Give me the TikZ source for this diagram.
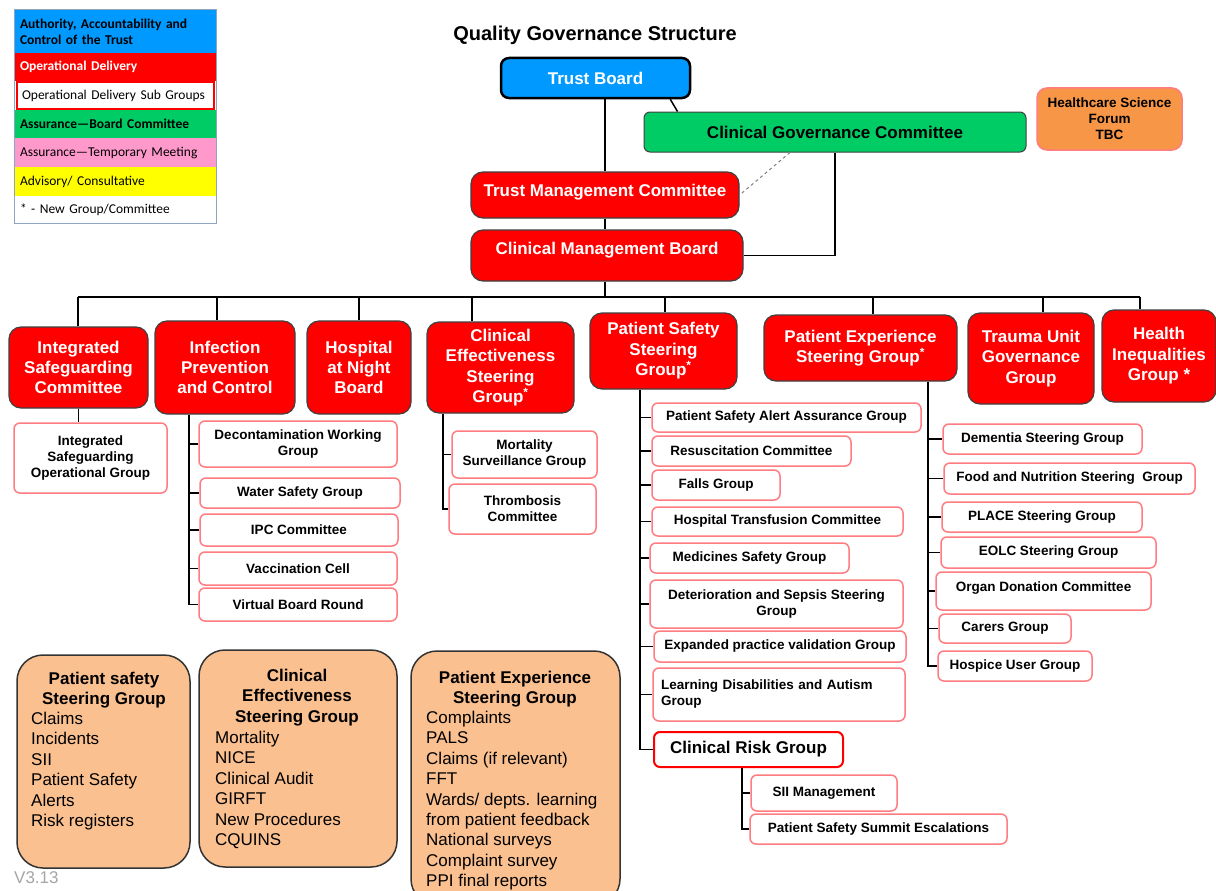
\documentclass[tikz,border=0pt]{standalone}
\usepackage{fontspec}
\setmainfont{Liberation Sans}
\newfontfamily\legfont{Carlito}
\usetikzlibrary{calc}

\definecolor{tbblue}{HTML}{0099FF}
\definecolor{cgcgreen}{HTML}{00CC66}
\definecolor{hsforange}{HTML}{F79646}
\definecolor{opred}{HTML}{FF0000}
\definecolor{subred}{HTML}{FF7C80}
\definecolor{peach}{HTML}{FAC090}
\definecolor{legpink}{HTML}{FF99CC}
\definecolor{legyellow}{HTML}{FFFF00}
\definecolor{hdborder}{HTML}{404040}
\definecolor{legframe}{HTML}{8EA4C0}

\tikzset{
  wh/.style 2 args={minimum width=#1pt, minimum height=#2pt},
  hdbox/.style={rectangle, inner sep=0pt, align=center, fill=opred, draw=hdborder,
    line width=1.2pt, rounded corners=12pt, text=white,
    font=\bfseries\fontsize{17}{20.4}\selectfont},
  subbox/.style={rectangle, inner sep=0pt, align=center, fill=white, draw=subred,
    line width=1.5pt, rounded corners=6pt, font=\bfseries\fontsize{13.5}{16}\selectfont},
  sumbox/.style={rectangle, inner sep=0pt, fill=peach, draw=black!80, line width=1.5pt,
    rounded corners=26pt},
  sumhead/.style={inner sep=0pt, align=center, anchor=north,
    font=\bfseries\fontsize{17}{20.4}\selectfont},
  sumlist/.style={inner sep=0pt, align=left, anchor=north west,
    font=\fontsize{17}{20.4}\selectfont},
  legrow/.style={rectangle, inner sep=0pt, inner xsep=5pt, minimum width=201pt,
    text width=191pt, align=left, font=\legfont\fontsize{13.5}{16}\selectfont},
  link/.style={draw=black, line width=1.8pt},
}

\begin{document}
\begin{tikzpicture}[x=1pt,y=-1pt]
  \useasboundingbox (0,0) rectangle (1216,891);
  \fill[white] (0,0) rectangle (1216,891);

  % key
  \node[legrow, fill=tbblue, minimum height=43pt, font=\legfont\bfseries\fontsize{13.5}{16}\selectfont] (lg1) at (115.5,31.5) {Authority, Accountability and\\Control of the Trust};
  \node[legrow, fill=opred, text=white, minimum height=28pt, font=\legfont\bfseries\fontsize{13.5}{16}\selectfont] (lg2) at (115.5,67) {Operational Delivery};
  \node[legrow, fill=white, draw=opred, line width=2pt, minimum height=27pt, minimum width=197pt, text width=187pt] (lg3) at (115.5,95.5) {Operational Delivery Sub Groups};
  \node[legrow, fill=cgcgreen, minimum height=28pt, font=\legfont\bfseries\fontsize{13.5}{16}\selectfont] (lg4) at (115.5,124) {Assurance—Board Committee};
  \node[legrow, fill=legpink, minimum height=29pt] (lg5) at (115.5,152.5) {Assurance—Temporary Meeting};
  \node[legrow, fill=legyellow, minimum height=29pt] (lg6) at (115.5,181.5) {Advisory/ Consultative};
  \node[legrow, fill=white, minimum height=27pt] (lg7) at (115.5,209.5) {* - New Group/Committee};
  \draw[draw=legframe, line width=0.8pt] (lg1.north west) rectangle (lg7.south east);

  % title
  \node[font=\bfseries\fontsize{20}{24}\selectfont] (title) at (595,35) {Quality Governance Structure};

  % top of the structure
  \node[hdbox, fill=tbblue, draw=black, line width=2.5pt, rounded corners=8pt, wh={189}{40}] (tb) at (595.5,78) {Trust Board};
  \node[hdbox, fill=cgcgreen, draw=hdborder, line width=1pt, rounded corners=6pt, text=black, wh={382}{40}] (cgc) at (835,132) {Clinical Governance Committee};
  \node[subbox, fill=hsforange, rounded corners=10pt, wh={145}{62}] (hsf) at (1109.5,119) {Healthcare Science\\Forum\\TBC};
  \node[hdbox, wh={268}{46}, text height=12pt, text depth=9pt] (tmc) at (605,195) {Trust Management Committee};
  \node[hdbox, wh={272}{51}, text height=12pt, text depth=15pt] (cmb) at (607,255.5) {Clinical Management Board};

  \coordinate (busL) at (78,297);
  \coordinate (busR) at (1140,297);

  \draw[link] (tb.south -| tmc.north) -- (tmc.north);
  \draw[link] (tmc.south) -- (cmb.north -| tmc.south);
  \draw[link] (cmb.south -| tmc.south) -- (busL -| tmc.south);
  \draw[line width=1.5pt] ($(tb.south east)+(-21,0)$) -- ($(cgc.north west)+(34,0)$);
  \draw[link] (cgc.south) -- (cgc.south |- cmb.east) -- (cmb.east);
  \draw[dashed, draw=gray, line width=1pt] ($(cgc.south)+(-45,0)$) -- (tmc.east);

  % groups reporting to the board
  \node[hdbox, wh={139}{81}] (isc) at (78.5,367.5) {Integrated\\Safeguarding\\Committee};
  \node[hdbox, wh={140}{93}] (ipc) at (225,367.5) {Infection\\Prevention\\and Control};
  \node[hdbox, wh={104}{93}] (han) at (359,367.5) {Hospital\\at Night\\Board};
  \node[hdbox, wh={147}{91}] (ces) at (500.5,367.5) {Clinical\\Effectiveness\\Steering\\Group\textsuperscript{*}};
  \node[hdbox, wh={147}{76}] (pss) at (663.5,351) {Patient Safety\\Steering\\Group\textsuperscript{*}};
  \node[hdbox, wh={193}{66}] (pes) at (860.5,348) {Patient Experience\\Steering Group\textsuperscript{*}};
  \node[hdbox, wh={126}{91}] (tug) at (1031,358.5) {Trauma Unit\\Governance\\Group};
  \node[hdbox, wh={114}{92}] (hig) at (1159,356) {Health\\Inequalities\\Group *};

  \draw[link] (busL) -- (busR);
  \foreach \n/\dx in {isc/78, ipc/217, han/359, ces/472, pss/665, pes/873, tug/1043, hig/1140}
    \draw[link] (\dx,297) -- (\dx,297 |- \n.north);

  % sub groups
  \node[subbox, wh={153}{70}] (isog) at (90.5,458) {Integrated\\Safeguarding\\Operational Group};
  \draw[link] (isc.south) -- (isc.south |- isog.north);

  \node[subbox, wh={198}{46}] (dwg) at (298,444) {Decontamination Working\\Group};
  \node[subbox, wh={200}{30}] (wsg) at (300,493) {Water Safety Group};
  \node[subbox, wh={198}{32}] (ipcc) at (299,530) {IPC Committee};
  \node[subbox, wh={198}{33}] (vac) at (298,568.5) {Vaccination Cell};
  \node[subbox, wh={198}{33}] (vbr) at (298,604.5) {Virtual Board Round};
  \coordinate (ipcsp) at (ipc.south -| 189,0);
  \draw[link] (ipcsp) -- (ipcsp |- vbr.west) -- (vbr.west);
  \foreach \n in {dwg,wsg,ipcc,vac}
    \draw[link] (ipcsp |- \n.west) -- (\n.west);

  \node[subbox, wh={145}{47}] (msg) at (524.5,454.5) {Mortality\\Surveillance Group};
  \node[subbox, wh={147}{50}] (thr) at (522.5,509) {Thrombosis\\Committee};
  \coordinate (cessp) at (ces.south -| 443,0);
  \draw[link] (cessp) -- (cessp |- thr.west) -- (thr.west);
  \draw[link] (cessp |- msg.west) -- (msg.west);

  \node[subbox, wh={269}{29}] (psaag) at (786.5,417.5) {Patient Safety Alert Assurance Group};
  \node[subbox, wh={199}{30}] (res) at (751.5,451) {Resuscitation Committee};
  \node[subbox, wh={128}{30}] (falls) at (716,485) {Falls Group};
  \node[subbox, wh={251}{29}] (htc) at (777.5,521.5) {Hospital Transfusion Committee};
  \node[subbox, wh={199}{30}] (msafe) at (749.5,558) {Medicines Safety Group};
  \node[subbox, wh={253}{48}] (dss) at (776.5,604) {Deterioration and Sepsis Steering\\Group};
  \node[subbox, wh={252}{31}] (epv) at (780,646.5) {Expanded practice validation Group};
  \node[subbox, wh={252}{53}, inner xsep=8pt, text width=236pt, align=left] (lda) at (779,694.5) {Learning Disabilities and Autism\\Group};
  \node[subbox, draw=opred, line width=2pt, wh={189}{35}, font=\bfseries\fontsize{17}{20}\selectfont] (crg) at (748.5,749.5) {Clinical Risk Group};
  \coordinate (psssp) at (pss.south -| 640,0);
  \draw[link] (psssp) -- (psssp |- crg.west) -- (crg.west);
  \foreach \n in {psaag,res,falls,htc,msafe,dss,epv,lda}
    \draw[link] (psssp |- \n.west) -- (\n.west);

  \node[subbox, wh={146}{36}] (siim) at (824,793) {SII Management};
  \node[subbox, wh={257}{30}] (psse) at (878.5,829) {Patient Safety Summit Escalations};
  \coordinate (crgsp) at (crg.south -| 742,0);
  \draw[link] (crgsp) -- (crgsp |- psse.west) -- (psse.west);
  \draw[link] (crgsp |- siim.west) -- (siim.west);

  \node[subbox, wh={199}{30}] (dem) at (1042.5,439) {Dementia Steering Group};
  \node[subbox, wh={251}{31}] (fns) at (1069.5,478.5) {Food and Nutrition Steering~~Group};
  \node[subbox, wh={200}{30}] (place) at (1042,517) {PLACE Steering Group};
  \node[subbox, wh={215}{31}] (eolc) at (1048.5,552.5) {EOLC Steering Group};
  \node[subbox, wh={215}{38}, text height=10pt, text depth=10pt] (odc) at (1043.5,591) {Organ Donation Committee};
  \node[subbox, wh={132}{29}] (carers) at (1005,628.5) {Carers Group};
  \node[subbox, wh={154}{30}] (hosp) at (1015,666) {Hospice User Group};
  \coordinate (pessp) at (pes.south -| 928,0);
  \draw[link] (pessp) -- (pessp |- hosp.west) -- (hosp.west);
  \foreach \n in {dem,fns,place,eolc,odc,carers}
    \draw[link] (pessp |- \n.west) -- (\n.west);

  % what each steering group covers
  \node[sumbox, wh={173}{213}] (sum1) at (103.5,761.5) {};
  \node[sumbox, wh={198}{217}] (sum2) at (298,758.5) {};
  \node[sumbox, wh={209}{254}] (sum3) at (515.5,778) {};
  \node[sumhead] (sum1t) at (104,672) {Patient safety\\Steering Group};
  \node[sumlist] (sum1i) at (31,712) {Claims\\Incidents\\SII\\Patient Safety\\Alerts\\Risk registers};
  \node[sumhead] (sum2t) at (297,669) {Clinical\\Effectiveness\\Steering Group};
  \node[sumlist] (sum2i) at (215,731) {Mortality\\NICE\\Clinical Audit\\GIRFT\\New Procedures\\CQUINS};
  \node[sumhead] (sum3t) at (515,671) {Patient Experience\\Steering Group};
  \node[sumlist] (sum3i) at (426,711) {Complaints\\PALS\\Claims (if relevant)\\FFT\\Wards/ depts. learning\\from patient feedback\\National surveys\\Complaint survey\\PPI final reports};

  % version
  \node[text=gray!70, font=\fontsize{17}{20}\selectfont, anchor=west, inner sep=0pt] (ver) at (14,878) {V3.13};
\end{tikzpicture}
\end{document}
